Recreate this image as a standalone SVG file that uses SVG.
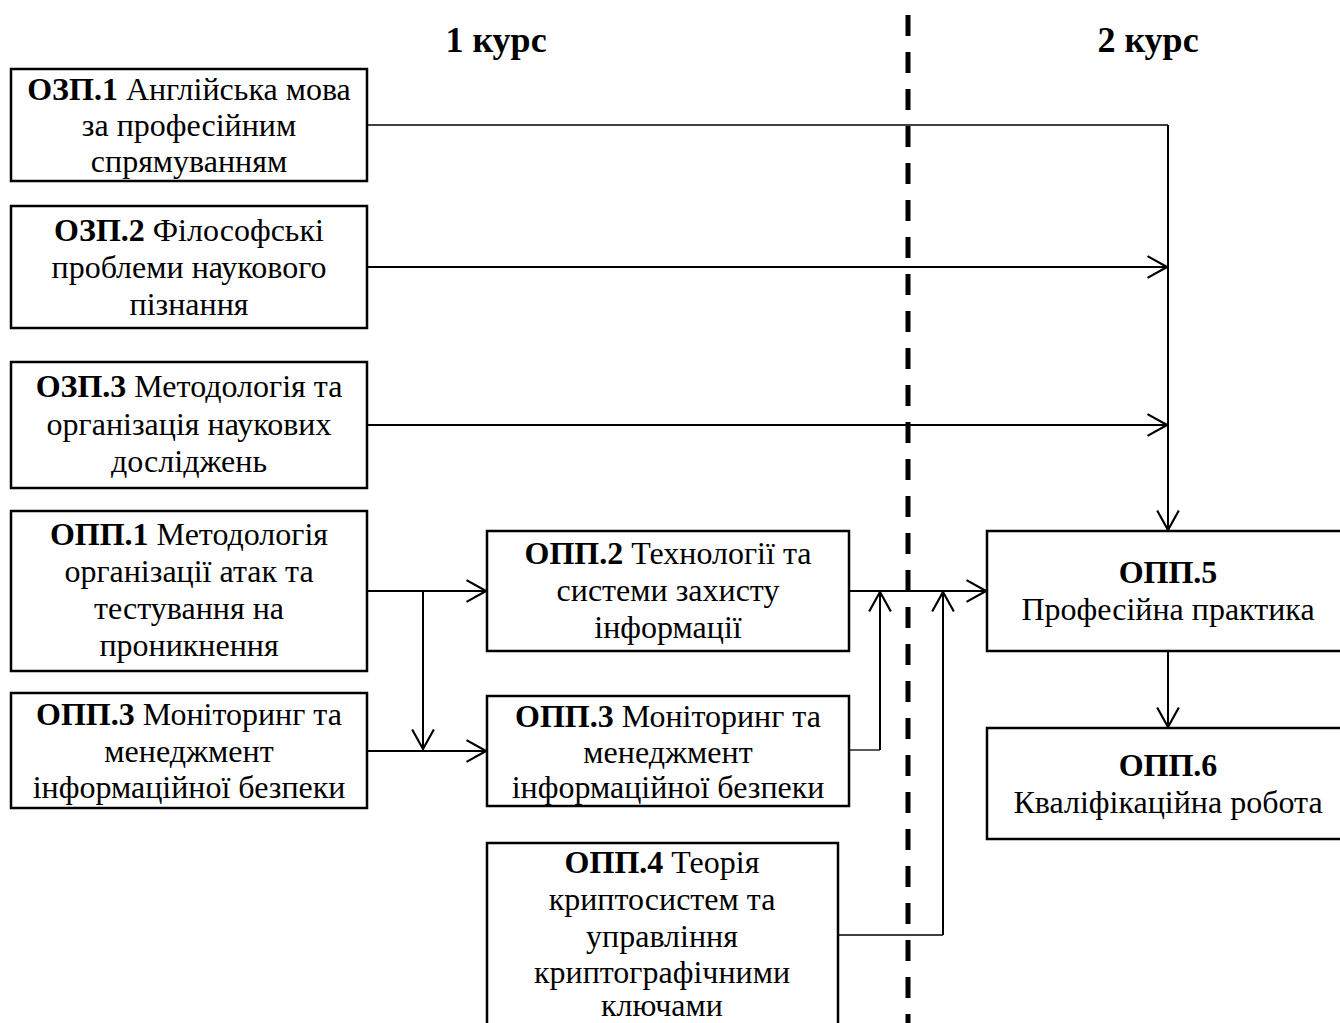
<svg xmlns="http://www.w3.org/2000/svg" width="1340" height="1023" viewBox="0 0 1340 1023">
<style>
.box{fill:#fff;stroke:#000;stroke-width:2.5}
.t{font-family:"Liberation Serif","Times New Roman",serif;font-size:32px;fill:#000;text-anchor:middle}
.b{font-weight:bold}
.title{font-family:"Liberation Serif","Times New Roman",serif;font-size:36px;font-weight:bold;fill:#000;text-anchor:middle}
.c{fill:none;stroke:#000;stroke-width:2}
.thin{fill:none;stroke:#000;stroke-width:1.3}
.arr{marker-end:url(#ah)}
</style>
<defs>
<marker id="ah" markerUnits="userSpaceOnUse" markerWidth="24" markerHeight="26" viewBox="-20 -12 22 24" refX="0" refY="0" orient="auto">
<path d="M-18,-10 L0,0 L-18,10" fill="none" stroke="#000" stroke-width="2"/>
</marker>
</defs>
<rect width="1340" height="1023" fill="#fff"/>
<g id="titles">
<text class="title" x="496" y="52">1 курс</text>
<text class="title" x="1148" y="52">2 курс</text>
</g>
<line id="divider" x1="908" y1="15" x2="908" y2="1023" stroke="#000" stroke-width="5" stroke-dasharray="21 16"/>
<g id="connectors">
<polyline class="thin" points="367,125 1168,125"/>
<polyline class="c arr" points="1168,125 1168,530"/>
<polyline class="c arr" points="367,267 1167,267"/>
<polyline class="c arr" points="367,425 1167,425"/>
<polyline class="c arr" points="367,591 486,591"/>
<polyline class="c arr" points="423,591 423,749"/>
<polyline class="c arr" points="367,751 486,751"/>
<polyline class="c arr" points="849,591 986,591"/>
<polyline class="thin" points="849,750 880,750"/>
<polyline class="c arr" points="880,750 880,592"/>
<polyline class="thin" points="838,935 943,935"/>
<polyline class="c arr" points="943,935 943,592"/>
<polyline class="c arr" points="1168,651 1168,727"/>
</g>
<g id="ozp1">
<rect class="box" x="11" y="69" width="356" height="112"/>
<text class="t" x="189" y="100"><tspan class="b">ОЗП.1</tspan> Англійська мова</text>
<text class="t" x="189" y="136">за професійним</text>
<text class="t" x="189" y="172">спрямуванням</text>
</g>
<g id="ozp2">
<rect class="box" x="11" y="206" width="356" height="122"/>
<text class="t" x="189" y="241"><tspan class="b">ОЗП.2</tspan> Філософські</text>
<text class="t" x="189" y="278">проблеми наукового</text>
<text class="t" x="189" y="315">пізнання</text>
</g>
<g id="ozp3">
<rect class="box" x="11" y="362" width="356" height="126"/>
<text class="t" x="189" y="397"><tspan class="b">ОЗП.3</tspan> Методологія та</text>
<text class="t" x="189" y="435">організація наукових</text>
<text class="t" x="189" y="472">досліджень</text>
</g>
<g id="opp1">
<rect class="box" x="11" y="511" width="356" height="160"/>
<text class="t" x="189" y="545"><tspan class="b">ОПП.1</tspan> Методологія</text>
<text class="t" x="189" y="582">організації атак та</text>
<text class="t" x="189" y="619">тестування на</text>
<text class="t" x="189" y="656">проникнення</text>
</g>
<g id="opp3-left">
<rect class="box" x="11" y="693" width="356" height="115"/>
<text class="t" x="189" y="725"><tspan class="b">ОПП.3</tspan> Моніторинг та</text>
<text class="t" x="189" y="762">менеджмент</text>
<text class="t" x="189" y="798">інформаційної безпеки</text>
</g>
<g id="opp2">
<rect class="box" x="487" y="531" width="362" height="120"/>
<text class="t" x="668" y="564"><tspan class="b">ОПП.2</tspan> Технології та</text>
<text class="t" x="668" y="601">системи захисту</text>
<text class="t" x="668" y="638">інформації</text>
</g>
<g id="opp3-mid">
<rect class="box" x="487" y="696" width="362" height="110"/>
<text class="t" x="668" y="727"><tspan class="b">ОПП.3</tspan> Моніторинг та</text>
<text class="t" x="668" y="763">менеджмент</text>
<text class="t" x="668" y="798">інформаційної безпеки</text>
</g>
<g id="opp4">
<rect class="box" x="487" y="843" width="351" height="200"/>
<text class="t" x="662" y="873"><tspan class="b">ОПП.4</tspan> Теорія</text>
<text class="t" x="662" y="910">криптосистем та</text>
<text class="t" x="662" y="947">управління</text>
<text class="t" x="662" y="983">криптографічними</text>
<text class="t" x="662" y="1016">ключами</text>
</g>
<g id="opp5">
<rect class="box" x="987" y="531" width="362" height="120"/>
<text class="t b" x="1168" y="583">ОПП.5</text>
<text class="t" x="1168" y="620">Професійна практика</text>
</g>
<g id="opp6">
<rect class="box" x="987" y="728" width="362" height="111"/>
<text class="t b" x="1168" y="776">ОПП.6</text>
<text class="t" x="1168" y="813">Кваліфікаційна робота</text>
</g>
</svg>
